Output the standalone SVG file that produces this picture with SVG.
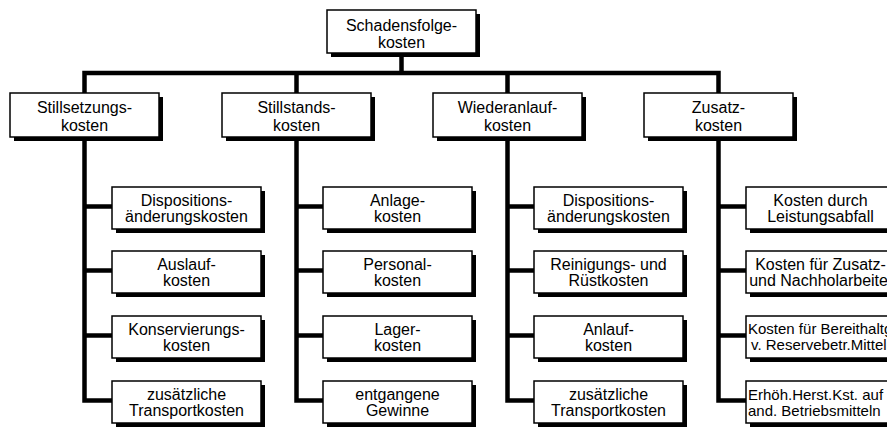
<svg xmlns="http://www.w3.org/2000/svg" width="887" height="427" viewBox="0 0 887 427">
<style>
.bg{fill:#fff}
.c{fill:none;stroke:#000;stroke-width:4.5;stroke-linecap:square;stroke-linejoin:miter}
.sh{fill:#000}
.bx{fill:#fff;stroke:#000;stroke-width:1.5}
text{font-family:"Liberation Sans",Arial,sans-serif;font-size:16px;fill:#000;text-anchor:middle}
.sm{font-size:15px;text-anchor:start}
</style>
<rect class="bg" x="0" y="0" width="887" height="427"/>
<g id="connectors">
<path class="c" d="M401.5,53 V73 M84.5,73 H718.5 M84.5,73 V93 M296.5,73 V93 M507.5,73 V93 M718.5,73 V93"/>
<path class="c" d="M84.5,137 V400.5 H112 M84.5,206.5 H112 M84.5,270.5 H112 M84.5,335.5 H112"/>
<path class="c" d="M296.5,137 V400.5 H323 M296.5,206.5 H323 M296.5,270.5 H323 M296.5,335.5 H323"/>
<path class="c" d="M507.5,137 V400.5 H534 M507.5,206.5 H534 M507.5,270.5 H534 M507.5,335.5 H534"/>
<path class="c" d="M718.5,137 V400.5 H746 M718.5,206.5 H746 M718.5,270.5 H746 M718.5,335.5 H746"/>
</g>
<g id="root"><rect class="sh" x="331" y="14" width="149" height="43"/><rect class="bx" x="327" y="10" width="149" height="43"/><text x="401.5" y="31">Schadensfolge-</text><text x="401.5" y="48">kosten</text></g>
<g id="stillsetzung"><rect class="sh" x="14" y="97" width="149" height="44"/><rect class="bx" x="10" y="93" width="149" height="44"/><text x="84.5" y="113">Stillsetzungs-</text><text x="84.5" y="131">kosten</text></g>
<g id="stillstand"><rect class="sh" x="226" y="97" width="149" height="44"/><rect class="bx" x="222" y="93" width="149" height="44"/><text x="296.5" y="113">Stillstands-</text><text x="296.5" y="131">kosten</text></g>
<g id="wiederanlauf"><rect class="sh" x="437" y="97" width="149" height="44"/><rect class="bx" x="433" y="93" width="149" height="44"/><text x="507.5" y="113">Wiederanlauf-</text><text x="507.5" y="131">kosten</text></g>
<g id="zusatz"><rect class="sh" x="648" y="97" width="149" height="44"/><rect class="bx" x="644" y="93" width="149" height="44"/><text x="718.5" y="113">Zusatz-</text><text x="718.5" y="131">kosten</text></g>

<g id="s1"><rect class="sh" x="116" y="191" width="149" height="42"/><rect class="bx" x="112" y="187" width="149" height="42"/><text x="186.5" y="206">Dispositions-</text><text x="186.5" y="222">änderungskosten</text></g>
<g id="s2"><rect class="sh" x="116" y="255" width="149" height="42"/><rect class="bx" x="112" y="251" width="149" height="42"/><text x="186.5" y="270">Auslauf-</text><text x="186.5" y="286">kosten</text></g>
<g id="s3"><rect class="sh" x="116" y="320" width="149" height="42"/><rect class="bx" x="112" y="316" width="149" height="42"/><text x="186.5" y="335">Konservierungs-</text><text x="186.5" y="351">kosten</text></g>
<g id="s4"><rect class="sh" x="116" y="385" width="149" height="42"/><rect class="bx" x="112" y="381" width="149" height="42"/><text x="186.5" y="400">zusätzliche</text><text x="186.5" y="416">Transportkosten</text></g>

<g id="t1"><rect class="sh" x="327" y="191" width="149" height="42"/><rect class="bx" x="323" y="187" width="149" height="42"/><text x="397.5" y="206">Anlage-</text><text x="397.5" y="222">kosten</text></g>
<g id="t2"><rect class="sh" x="327" y="255" width="149" height="42"/><rect class="bx" x="323" y="251" width="149" height="42"/><text x="397.5" y="270">Personal-</text><text x="397.5" y="286">kosten</text></g>
<g id="t3"><rect class="sh" x="327" y="320" width="149" height="42"/><rect class="bx" x="323" y="316" width="149" height="42"/><text x="397.5" y="335">Lager-</text><text x="397.5" y="351">kosten</text></g>
<g id="t4"><rect class="sh" x="327" y="385" width="149" height="42"/><rect class="bx" x="323" y="381" width="149" height="42"/><text x="397.5" y="400">entgangene</text><text x="397.5" y="416">Gewinne</text></g>

<g id="w1"><rect class="sh" x="538" y="191" width="149" height="42"/><rect class="bx" x="534" y="187" width="149" height="42"/><text x="608.5" y="206">Dispositions-</text><text x="608.5" y="222">änderungskosten</text></g>
<g id="w2"><rect class="sh" x="538" y="255" width="149" height="42"/><rect class="bx" x="534" y="251" width="149" height="42"/><text x="608.5" y="270">Reinigungs- und</text><text x="608.5" y="286">Rüstkosten</text></g>
<g id="w3"><rect class="sh" x="538" y="320" width="149" height="42"/><rect class="bx" x="534" y="316" width="149" height="42"/><text x="608.5" y="335">Anlauf-</text><text x="608.5" y="351">kosten</text></g>
<g id="w4"><rect class="sh" x="538" y="385" width="149" height="42"/><rect class="bx" x="534" y="381" width="149" height="42"/><text x="608.5" y="400">zusätzliche</text><text x="608.5" y="416">Transportkosten</text></g>

<g id="z1"><rect class="sh" x="750" y="191" width="149" height="42"/><rect class="bx" x="746" y="187" width="149" height="42"/><text x="820.5" y="206">Kosten durch</text><text x="820.5" y="222">Leistungsabfall</text></g>
<g id="z2"><rect class="sh" x="750" y="255" width="149" height="42"/><rect class="bx" x="746" y="251" width="149" height="42"/><text x="820.5" y="270">Kosten für Zusatz-</text><text x="823" y="286">und Nachholarbeiten</text></g>
<g id="z3"><rect class="sh" x="750" y="320" width="149" height="42"/><rect class="bx" x="746" y="316" width="149" height="42"/><text class="sm" x="748" y="334">Kosten für Bereithaltg.</text><text class="sm" x="751" y="350">v. Reservebetr.Mitteln</text></g>
<g id="z4"><rect class="sh" x="750" y="385" width="149" height="42"/><rect class="bx" x="746" y="381" width="149" height="42"/><text class="sm" x="748" y="400">Erhöh.Herst.Kst. auf</text><text class="sm" x="748" y="416">and. Betriebsmitteln</text></g>
</svg>
